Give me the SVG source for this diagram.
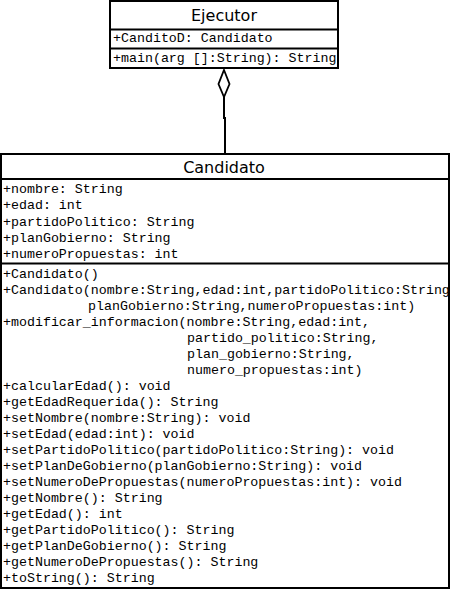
<svg xmlns="http://www.w3.org/2000/svg" width="450" height="589" viewBox="0 0 450 589">
<style>
.box{fill:#fff;stroke:#000;stroke-width:2}
.div{stroke:#000;stroke-width:2}
.title{font-family:"DejaVu Sans",sans-serif;font-size:16px;text-anchor:middle;fill:#000}
.mono{font-family:"Liberation Mono","Courier New",monospace;font-size:13.3px;fill:#000;white-space:pre}
.conn{fill:none;stroke:#000;stroke-width:2}
</style>
<defs>
<clipPath id="clipE"><rect x="111" y="0" width="226" height="68"/></clipPath>
<clipPath id="clipC"><rect x="2" y="154" width="446" height="434"/></clipPath>
</defs>
<rect width="450" height="589" fill="#fff"/>
<g id="connectors">
<polyline class="conn" points="224,96 224,118 225,118 225,153"/>
<polygon points="224,70 229.5,84 224,97 218.5,84" fill="#fff" stroke="#000" stroke-width="1.8"/>
</g>
<g id="Ejecutor">
<rect class="box" x="110" y="1" width="228" height="67"/>
<line class="div" x1="110" y1="29.5" x2="338" y2="29.5"/>
<line class="div" x1="110" y1="48.5" x2="338" y2="48.5"/>
<text class="title" x="224" y="21">Ejecutor</text>
<g clip-path="url(#clipE)">
<text class="mono" x="113" y="42">+CanditoD: Candidato</text>
<text class="mono" x="113" y="62">+main(arg []:String): String</text>
</g>
</g>
<g id="Candidato">
<rect class="box" x="1" y="154" width="448" height="434"/>
<line class="div" x1="1" y1="179" x2="449" y2="179"/>
<line class="div" x1="1" y1="263.5" x2="449" y2="263.5"/>
<text class="title" x="224" y="173">Candidato</text>
<g clip-path="url(#clipC)">
<text class="mono" x="3" y="193">+nombre: String</text>
<text class="mono" x="3" y="209">+edad: int</text>
<text class="mono" x="3" y="225.5">+partidoPolitico: String</text>
<text class="mono" x="3" y="241.5">+planGobierno: String</text>
<text class="mono" x="3" y="258">+numeroPropuestas: int</text>
<text class="mono" x="3" y="277.7">+Candidato()</text>
<text class="mono" x="3" y="293.7">+Candidato(nombre:String,edad:int,partidoPolitico:String</text>
<text class="mono" x="88" y="309.7">planGobierno:String,numeroPropuestas:int)</text>
<text class="mono" x="3" y="325.7">+modificar_informacion(nombre:String,edad:int,</text>
<text class="mono" x="187" y="341.7">partido_politico:String,</text>
<text class="mono" x="187" y="357.7">plan_gobierno:String,</text>
<text class="mono" x="187" y="373.7">numero_propuestas:int)</text>
<text class="mono" x="3" y="389.7">+calcularEdad(): void</text>
<text class="mono" x="3" y="405.7">+getEdadRequerida(): String</text>
<text class="mono" x="3" y="421.7">+setNombre(nombre:String): void</text>
<text class="mono" x="3" y="437.7">+setEdad(edad:int): void</text>
<text class="mono" x="3" y="453.7">+setPartidoPolitico(partidoPolitico:String): void</text>
<text class="mono" x="3" y="469.7">+setPlanDeGobierno(planGobierno:String): void</text>
<text class="mono" x="3" y="485.7">+setNumeroDePropuestas(numeroPropuestas:int): void</text>
<text class="mono" x="3" y="501.7">+getNombre(): String</text>
<text class="mono" x="3" y="517.7">+getEdad(): int</text>
<text class="mono" x="3" y="533.7">+getPartidoPolitico(): String</text>
<text class="mono" x="3" y="549.7">+getPlanDeGobierno(): String</text>
<text class="mono" x="3" y="565.7">+getNumeroDePropuestas(): String</text>
<text class="mono" x="3" y="581.7">+toString(): String</text>
</g>
</g>
</svg>
